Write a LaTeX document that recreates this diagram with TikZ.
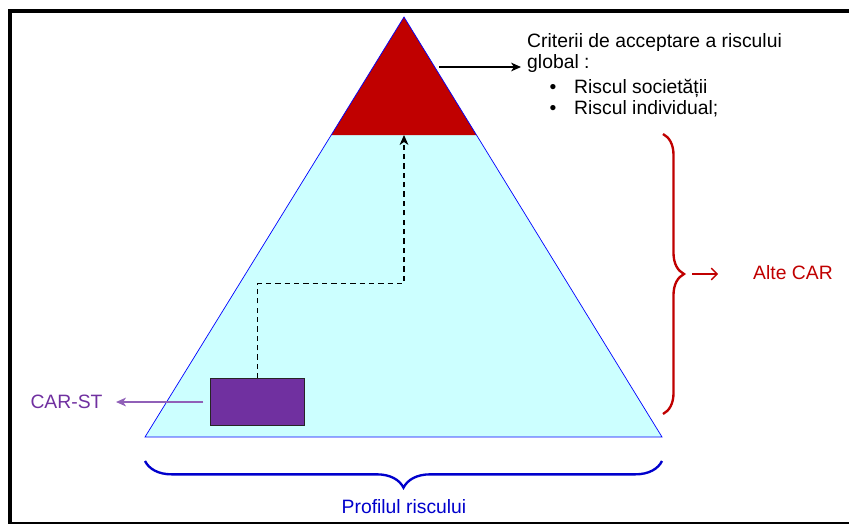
\documentclass[tikz,border=0pt]{standalone}
\usepackage{fontspec}
\setmainfont{Liberation Sans}
\usepackage{tikz}
\usetikzlibrary{arrows.meta,decorations.pathreplacing,calc}
\definecolor{riskred}{HTML}{C00000}
\definecolor{riskcyan}{HTML}{CCFFFF}
\definecolor{riskpurple}{HTML}{7030A0}
\definecolor{arrowpurple}{HTML}{9060B8}
\definecolor{riskblue}{HTML}{0000CC}

\tikzset{
 lbl/.style={font=\fontsize{16.5}{19}\selectfont,inner sep=0pt},
 riskbrace/.style={decorate,line width=2pt,decoration={brace,amplitude=#1}}
}

\begin{document}
\begin{tikzpicture}[x=0.03cm,y=-0.03cm,>={Stealth[length=8.5pt,width=7.5pt,inset=2.5pt]}]
 \useasboundingbox (0,0) rectangle (849,524);
 \draw[line width=3.4pt] (849,11) -- (10,11) -- (10,523.5);
 \draw[line width=1.7pt] (8,522.7) -- (849,522.7);

 \coordinate (top) at (404,17);
 \coordinate (bl) at (145,437);
 \coordinate (br) at (662,437);
 \coordinate (ml) at ($(top)!0.281!(bl)$);
 \coordinate (mr) at ($(top)!0.281!(br)$);
 \fill[riskcyan] (ml) -- (mr) -- (br) -- (bl) -- cycle;
 \fill[riskred] (top) -- (mr) -- (ml) -- cycle;
 \draw[blue,line width=0.6pt] (top) -- (bl) -- (br) -- cycle;

 \node (st) at (257.7,402)[draw=black!85,fill=riskpurple,line width=0.7pt,minimum width=2.82cm,minimum height=1.39cm,inner sep=0pt] {};
 \coordinate (bend) at (404,283.5);
 \coordinate (goal) at (404,135);
 \draw[->,dash pattern=on 4.5pt off 3.5pt,line width=1.2pt] (st.north) |- (bend) -- (goal);

 \node (carst)[lbl,text=riskpurple] at (66.5,402) {CAR-ST};
 \draw[->,arrowpurple,line width=1pt,shorten <=0.21cm,shorten >=0.4cm] (st.west) -- (carst.east);

 \coordinate (edge) at (439,67);
 \node (crit1)[lbl,anchor=base west] at (527,47) {Criterii de acceptare a riscului};
 \node (crit2)[lbl,anchor=base west] at (527,68) {global :};
 \node (dot1)[lbl,anchor=base] at (553,93) {•};
 \node (dot2)[lbl,anchor=base] at (553,114) {•};
 \node (item1)[lbl,anchor=base west] at (574,93) {Riscul societății};
 \node (item2)[lbl,anchor=base west] at (574,114) {Riscul individual;};
 \draw[->,line width=1.1pt,shorten >=0.18cm] (edge) -- (edge -| crit2.west);

 \draw[riskred,riskbrace=0.63cm] (663,134) -- (663,414);
 \coordinate (redtip) at (684,274);
 \node (alte)[lbl,anchor=base west,text=riskred] at (753,279) {Alte CAR};
 \draw[-{Straight Barb[length=5pt,width=10pt]},riskred,line width=1.1pt,shorten <=0.24cm,shorten >=1.05cm] (redtip) -- (redtip -| alte.west);

 \draw[riskblue,riskbrace=0.8cm] (662,461) -- (145,461);
 \node (profil)[lbl,text=riskblue] at (404,507) {Profilul riscului};
\end{tikzpicture}
\end{document}
